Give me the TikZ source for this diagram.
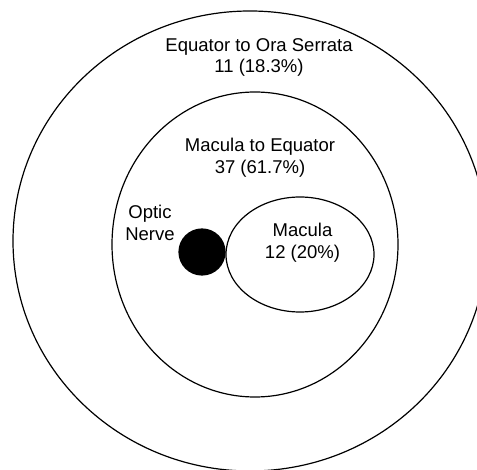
\documentclass[tikz,border=0pt]{standalone}
\usepackage{fontspec}
\setmainfont{Liberation Sans}
\usetikzlibrary{shapes.geometric}
\tikzset{
 zone/.style={ellipse,draw,line width=1.2pt,inner sep=0},
 nervedisc/.style={circle,draw,fill=black,line width=1.2pt,minimum size=46pt,inner sep=0},
 zonelabel/.style={align=center,inner sep=0,font=\fontsize{18.5}{21.6}\selectfont}
}
\begin{document}
\begin{tikzpicture}[x=1pt,y=-1pt]
\path[use as bounding box] (0,0) rectangle (477,470);
\node[zone,minimum width=474pt,minimum height=460pt] (outer) at (250,241) {};
\node[zone,minimum width=286pt,minimum height=305pt] (middle) at (255,244.5) {};
\node[zone,minimum width=148pt,minimum height=115pt] (macula) at (300,254.5) {};
\node[nervedisc] (nerve) at (202,252) {};
\node[zonelabel] (outerlabel) at (259,57.5) {Equator to Ora Serrata\\11 (18.3\%)};
\node[zonelabel] (middlelabel) at (260,157.5) {Macula to Equator\\37 (61.7\%)};
\node[zonelabel] (nervelabel) at (150,223) {Optic\\Nerve};
\node[zonelabel] (maculalabel) at (302.5,242.5) {Macula\\12 (20\%)};
\end{tikzpicture}
\end{document}
